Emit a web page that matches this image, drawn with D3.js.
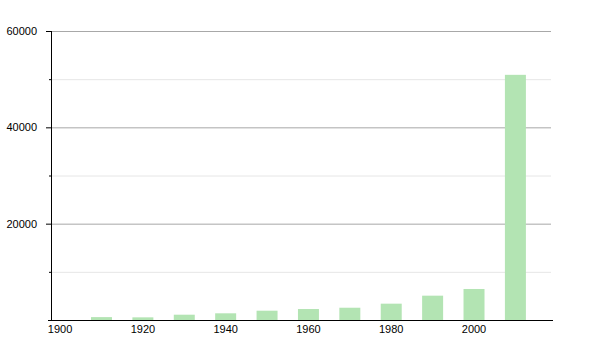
<!DOCTYPE html>
<html><head><meta charset="utf-8">
<script src="https://cdn.jsdelivr.net/npm/d3@7/dist/d3.min.js"></script>
<style>body{margin:0;background:#fff;}svg{display:block;}</style>
</head><body>
<svg id="c" width="600" height="350"></svg>
<script>
const years = [1910, 1920, 1930, 1940, 1950, 1960, 1970, 1980, 1990, 2000, 2010];
const values = [600, 550, 1100, 1390, 1930, 2280, 2550, 3390, 5050, 6440, 50900];
const xTicks = [1900, 1920, 1940, 1960, 1980, 2000];
const yMajor = [20000, 40000, 60000];
const yMinor = [10000, 30000, 50000];

const svg = d3.select("#c");
const pLeft = 51, pRight = 551, pTop = 31, pBottom = 320;
const x = d3.scaleLinear().domain([1897.8, 2018.6]).range([pLeft, pRight]);
const y = d3.scaleLinear().domain([0, 60000]).range([pBottom, pTop]);
const font = "'Liberation Sans', Arial, sans-serif";

// minor gridlines
svg.selectAll(".gmin").data(yMinor).enter().append("line")
  .attr("x1", pLeft).attr("x2", pRight)
  .attr("y1", d => y(d) + 0.5).attr("y2", d => y(d) + 0.5)
  .attr("stroke", "#e6e6e6").attr("stroke-width", 1);
// major gridlines
svg.selectAll(".gmaj").data(yMajor).enter().append("line")
  .attr("x1", pLeft).attr("x2", pRight)
  .attr("y1", d => y(d) + 0.5).attr("y2", d => y(d) + 0.5)
  .attr("stroke", "#a8a8a8").attr("stroke-width", 1);

// bars
const bw = x(1905.07) - x(1900);
svg.selectAll(".bar").data(years).enter().append("rect")
  .attr("x", d => x(d) - bw / 2)
  .attr("width", bw)
  .attr("y", (d, i) => y(values[i]))
  .attr("height", (d, i) => y(0) - y(values[i]))
  .attr("fill", "#b3e4b3");

// y axis
svg.append("line").attr("x1", pLeft + 0.5).attr("x2", pLeft + 0.5)
  .attr("y1", pTop).attr("y2", pBottom + 0.5).attr("stroke", "#000");
svg.selectAll(".ytm").data(yMajor).enter().append("line")
  .attr("x1", pLeft - 5).attr("x2", pLeft)
  .attr("y1", d => y(d) + 0.5).attr("y2", d => y(d) + 0.5).attr("stroke", "#000");
svg.selectAll(".ytn").data(yMinor).enter().append("line")
  .attr("x1", pLeft - 2).attr("x2", pLeft)
  .attr("y1", d => y(d) + 0.5).attr("y2", d => y(d) + 0.5).attr("stroke", "#000");
svg.selectAll(".ylab").data(yMajor).enter().append("text")
  .attr("x", pLeft - 14).attr("y", d => y(d)).attr("dy", "0.35em")
  .attr("text-anchor", "end").attr("font-family", font).attr("font-size", 11)
  .attr("fill", "#000").text(d => d);

// x axis
svg.append("line").attr("x1", pLeft - 3).attr("x2", pRight + 2)
  .attr("y1", pBottom + 0.5).attr("y2", pBottom + 0.5).attr("stroke", "#000");
svg.selectAll(".xlab").data(xTicks).enter().append("text")
  .attr("x", d => x(d)).attr("y", pBottom + 13)
  .attr("text-anchor", "middle").attr("font-family", font).attr("font-size", 11)
  .attr("fill", "#000").text(d => d);
</script>
</body></html>
